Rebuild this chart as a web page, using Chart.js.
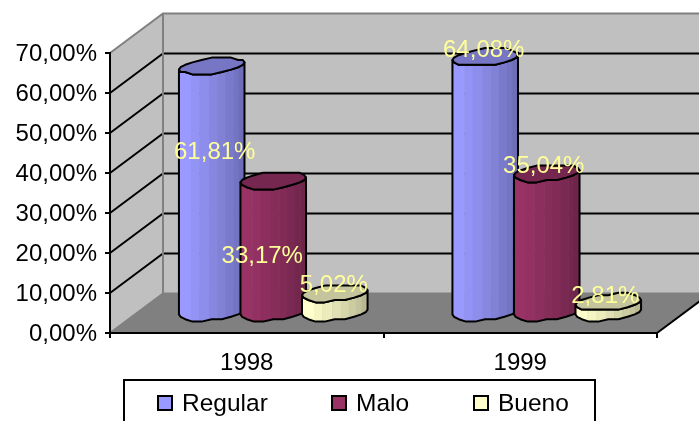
<!DOCTYPE html>
<html>
<head>
<meta charset="utf-8">
<style>html,body{margin:0;padding:0;background:#fff}canvas{display:block}</style>
<script src="https://cdn.jsdelivr.net/npm/chart.js@4/dist/chart.umd.min.js"></script>
</head>
<body>
<canvas id="c" width="699" height="421"></canvas>
<script>
const categories = ["1998", "1999"];
const regular = [61.81, 64.08];
const malo = [33.17, 35.04];
const bueno = [5.02, 2.81];
const seriesNames = ["Regular", "Malo", "Bueno"];
const seriesColors = ["#9999ff", "#993366", "#ffffcc"];
const yTicks = [0, 10, 20, 30, 40, 50, 60, 70];

// styling only
const FONT = '24px "Liberation Sans", Arial, sans-serif';
const LEGEND_FONT = '24.5px "Liberation Sans", Arial, sans-serif';
const DEPTH = {x: 53, y: -39.5};
const nudges = [[[3, 85], [-1.5, -8]], [[-11, 75], [-3, -7.5]], [[-1, -9], [-3, -7]]];
const bandStops = [0, .18, .31, .46, .59, .71, .83, .91, 1];
const legendBox = {l: 124, t: 380, r: 595, b: 424};
const legendX = [157, 331, 473];

const comma = v => v.toFixed(2).replace('.', ',');
function shade(hex, f) {
  const n = parseInt(hex.slice(1), 16);
  return `rgb(${Math.round((n >> 16) * f)},${Math.round(((n >> 8) & 255) * f)},${Math.round((n & 255) * f)})`;
}

function ring(cx, cy, a, from, to, n) {
  const pts = [];
  for (let i = 0; i <= n; i++) {
    const t = from + (to - from) * i / n;
    pts.push([cx + a * Math.cos(t) + 11.3 * Math.sin(t),
              Math.round((cy - 8.5 * Math.sin(t)) / 2.4) * 2.4]);
  }
  return pts;
}
function trace(ctx, pts) {
  pts.forEach((p, i) => i ? ctx.lineTo(p[0], p[1]) : ctx.moveTo(p[0], p[1]));
}

function cylinder(ctx, bar, color) {
  const a = bar.width / 2;
  const cx = bar.x + DEPTH.x / 2;
  const top = bar.y + DEPTH.y / 2, bot = bar.base + DEPTH.y / 2;
  const t0 = Math.atan2(11.3, a);
  const front = (cy) => ring(cx, cy, a, t0 - Math.PI, t0, 10);
  const lower = front(bot), upper = front(top).reverse();
  const left = upper[upper.length - 1][0], right = upper[0][0];
  ctx.save();
  ctx.beginPath(); trace(ctx, lower.concat(upper)); ctx.closePath();
  ctx.save(); ctx.clip();
  for (let i = 0; i < bandStops.length - 1; i++) {
    ctx.fillStyle = shade(color, 1 - 0.28 * i / (bandStops.length - 2));
    const x0 = left + (right - left) * bandStops[i];
    const x1 = left + (right - left) * bandStops[i + 1];
    ctx.fillRect(x0, top - 15, x1 - x0 + 0.5, bot - top + 40);
  }
  ctx.restore();
  ctx.lineWidth = 2; ctx.lineJoin = 'round'; ctx.strokeStyle = '#000';
  ctx.stroke();
  ctx.beginPath(); trace(ctx, ring(cx, top, a, t0, t0 + 2 * Math.PI, 20)); ctx.closePath();
  ctx.fillStyle = shade(color, 0.77); ctx.fill(); ctx.stroke();
  ctx.restore();
}

const scene = {
  id: 'scene',
  beforeDraw(chart) {
    const {ctx, scales: {x, y}} = chart;
    const L = x.left, R = x.right, T = y.top, B = y.bottom, W = chart.width;
    const dx = DEPTH.x, dy = DEPTH.y;
    ctx.save();
    ctx.fillStyle = '#c0c0c0';
    ctx.fillRect(L + dx, T + dy, W - L - dx, B - T);
    ctx.beginPath(); ctx.moveTo(L, T); ctx.lineTo(L + dx, T + dy); ctx.lineTo(L + dx, B + dy); ctx.lineTo(L, B); ctx.closePath(); ctx.fill();
    ctx.fillStyle = '#808080';
    ctx.beginPath(); ctx.moveTo(L, B); ctx.lineTo(R, B); ctx.lineTo(R + dx, B + dy); ctx.lineTo(L + dx, B + dy); ctx.closePath(); ctx.fill();
    ctx.lineWidth = 2; ctx.strokeStyle = '#000';
    y.ticks.forEach(t => {
      if (t.value === 0 || t.value === 70) return;
      const py = y.getPixelForValue(t.value);
      ctx.beginPath(); ctx.moveTo(L, py); ctx.lineTo(L + dx, py + dy); ctx.lineTo(W, py + dy); ctx.stroke();
    });
    ctx.strokeStyle = '#808080';
    ctx.beginPath(); ctx.moveTo(L, T); ctx.lineTo(L + dx, T + dy); ctx.lineTo(W, T + dy); ctx.stroke();
    ctx.beginPath(); ctx.moveTo(L + dx, T + dy); ctx.lineTo(L + dx, B + dy); ctx.lineTo(W, B + dy); ctx.stroke();
    ctx.beginPath(); ctx.moveTo(L, B); ctx.lineTo(L + dx, B + dy); ctx.stroke();
    ctx.strokeStyle = '#000';
    ctx.beginPath(); ctx.moveTo(R, B); ctx.lineTo(R + dx, B + dy); ctx.stroke();
    ctx.restore();
  },
  beforeDatasetsDraw(chart) {
    chart.data.datasets.forEach((ds, i) => {
      chart.getDatasetMeta(i).data.forEach(bar => cylinder(chart.ctx, bar, ds.backgroundColor));
    });
  },
  beforeDatasetDraw() {
    return false;
  },
  afterDatasetsDraw(chart) {
    const {ctx} = chart;
    ctx.save();
    ctx.font = FONT; ctx.fillStyle = '#ffff99'; ctx.textAlign = 'center'; ctx.textBaseline = 'middle';
    chart.data.datasets.forEach((ds, i) => {
      chart.getDatasetMeta(i).data.forEach((bar, j) => {
        const n = nudges[i][j];
        ctx.fillText(comma(ds.data[j]) + '%', bar.x + DEPTH.x / 2 + n[0], bar.y + DEPTH.y / 2 + n[1] + 1);
      });
    });
    ctx.restore();
  },
  afterDraw(chart) {
    const {ctx} = chart;
    ctx.save();
    ctx.fillStyle = '#fff'; ctx.strokeStyle = '#000'; ctx.lineWidth = 2;
    ctx.fillRect(legendBox.l, legendBox.t, legendBox.r - legendBox.l, legendBox.b - legendBox.t);
    ctx.strokeRect(legendBox.l, legendBox.t, legendBox.r - legendBox.l, legendBox.b - legendBox.t);
    ctx.font = LEGEND_FONT; ctx.textBaseline = 'middle'; ctx.textAlign = 'left';
    chart.data.datasets.forEach((ds, i) => {
      const bx = legendX[i];
      ctx.fillStyle = ds.backgroundColor;
      ctx.fillRect(bx + 1, 396, 14, 14);
      ctx.strokeRect(bx + 1, 396, 14, 14);
      ctx.fillStyle = '#000';
      ctx.fillText(ds.label, bx + 25, 404);
    });
    ctx.restore();
  }
};

new Chart(document.getElementById('c'), {
  type: 'bar',
  data: {
    labels: categories,
    datasets: [regular, malo, bueno].map((d, i) => ({
      label: seriesNames[i], data: d, backgroundColor: seriesColors[i], borderWidth: 0
    }))
  },
  plugins: [scene],
  options: {
    responsive: false,
    animation: false,
    layout: {padding: {top: 53, right: 42, left: 0, bottom: 0}},
    datasets: {bar: {categoryPercentage: 0.675, barPercentage: 1}},
    plugins: {legend: {display: false}, tooltip: {enabled: false}, title: {display: false}},
    scales: {
      x: {
        afterFit(s) { s.height = 88; },
        grid: {drawOnChartArea: false, drawTicks: true, tickLength: 5, color: '#000', lineWidth: 2},
        border: {color: '#000', width: 2},
        ticks: {color: '#000', font: {family: '"Liberation Sans", Arial, sans-serif', size: 24}, padding: 11, maxRotation: 0}
      },
      y: {
        min: 0, max: 70,
        afterFit(s) { s.width = 110; },
        afterBuildTicks(s) { s.ticks = yTicks.map(v => ({value: v})); },
        grid: {drawOnChartArea: false, drawTicks: true, tickLength: 5, color: '#000', lineWidth: 2},
        border: {color: '#000', width: 2},
        ticks: {color: '#000', font: {family: '"Liberation Sans", Arial, sans-serif', size: 24}, padding: 8, labelOffset: 1,
          callback: v => comma(v) + '%'}
      }
    }
  }
});
</script>
</body>
</html>
